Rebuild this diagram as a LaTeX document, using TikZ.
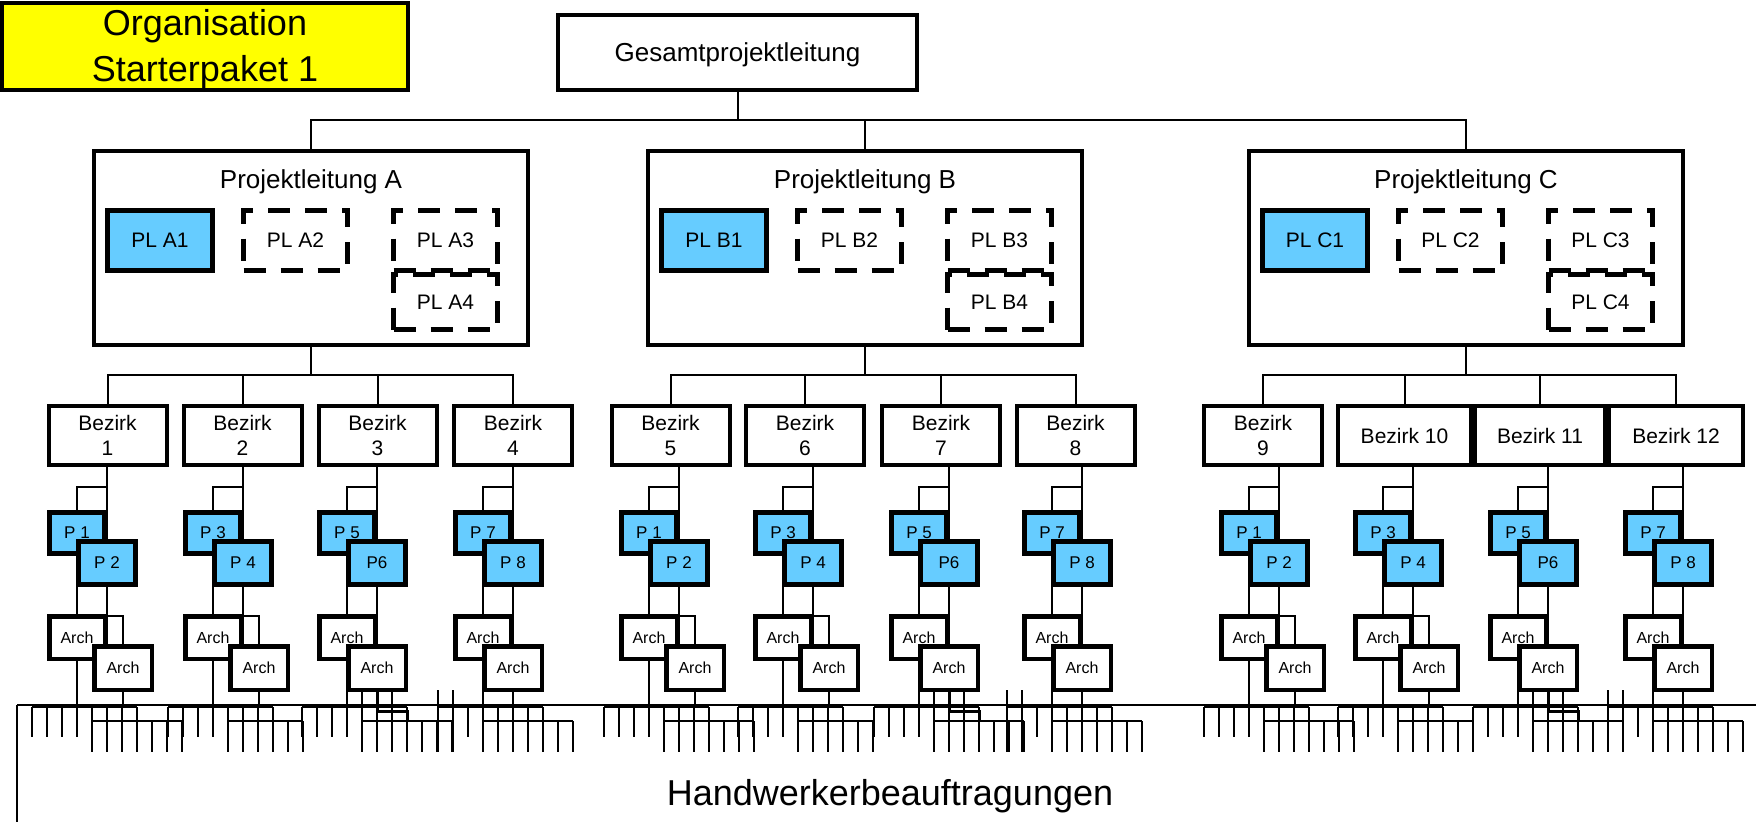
\documentclass[tikz,border=0pt]{standalone}
\usepackage{fontspec}
\setmainfont{Liberation Sans}
\definecolor{plblue}{HTML}{66CCFF}
\definecolor{titleyellow}{HTML}{FFFF00}
\pgfdeclarelayer{back}
\pgfdeclarelayer{bg}
\pgfsetlayers{back,bg,main}
\newcommand{\fzTitle}{\fontsize{36}{46}\selectfont}
\newcommand{\fzBig}{\fontsize{26}{31}\selectfont}
\newcommand{\fzMid}{\fontsize{21}{25}\selectfont}
\newcommand{\fzP}{\fontsize{17}{20}\selectfont}
\newcommand{\fzArch}{\fontsize{16}{19}\selectfont}
\newcommand{\fzHw}{\fontsize{36}{43}\selectfont}

% #1 id, #2 a, #3 arch2 offset, #4 lower comb start offset, #5 lower comb last index,
% #6 upper P label, #7 lower P label, #8 type (1: offset arch, 3: column 3, 4: column 4)
\newcommand{\bzunit}[8]{%
  \node[pbox, minimum width=55pt, minimum height=41pt] (pa#1) at ({#2-30},533) {#6};
  \node[pbox, minimum width=57pt, minimum height=43pt] (pb#1) at (#2,563) {#7};
  \node[archbox] (aa#1) at ({#2-30},637.5) {Arch};
  \node[archbox, minimum width=57.5pt, minimum height=43.5pt] (ab#1) at ({#2+#3},668) {Arch};
  \coordinate (br#1) at (#2,487);
  \begin{pgfonlayer}{bg}
    \draw[conn] (pb#1.north |- bz#1.south) -- (pb#1.north);
    \draw[conn] (br#1) -| (pa#1.north);
    \draw[conn] (aa#1.north |- pb#1.south) -- (aa#1.north);
    \draw[conn] (pb#1.south) -- (pb#1.south |- ab#1.north);
    \draw[conn] (aa#1.south) -- (aa#1.south |- combU);
    \draw[comb] ({#2-75},707) -- ({#2+30},707);
    \foreach \k in {0,...,7} \draw[comb] ({#2-75+15*\k},707) -- ++(0,30);
    \draw[comb] ({#2+#4},721) -- ({#2+#4+15*#5},721);
    \foreach \k in {0,...,#5} \draw[comb] ({#2+#4+15*\k},721) -- ++(0,31);
    \ifnum#8=1
      \draw[conn] (pb#1.south |- aa#1.north) -| (ab#1.north);
      \draw[conn] (ab#1.south) -- (ab#1.south |- combU);
    \fi
    \ifnum#8=3
      \draw[line width=3pt] (ab#1.south) -- ++(0,22) -- ++(30,0) -- ++(0,10);
      \draw[conn] ([xshift=-15pt]ab#1.south) -- ++(0,32);
      \draw[conn] ([xshift=15pt]ab#1.south) -- ++(0,32);
    \fi
    \ifnum#8=4
      \draw[conn] (ab#1.south) -- (ab#1.south |- combU);
      \draw[comb] ({#2-75},690) -- ({#2-75},752);
      \draw[comb] ({#2-60},690) -- ({#2-60},752);
    \fi
  \end{pgfonlayer}
}

\begin{document}
\begin{tikzpicture}[x=1pt,y=-1pt,
  conn/.style={line width=2pt},
  comb/.style={line width=2pt},
  hair/.style={line width=1.3pt},
  bigbox/.style={draw, line width=4pt, fill=white, inner sep=0pt, outer sep=0pt},
  titlebox/.style={draw, line width=4pt, fill=titleyellow, inner sep=0pt, outer sep=0pt,
    align=center, font=\fzTitle, minimum width=406pt, minimum height=87pt, text depth=1.6pt},
  plbox/.style={bigbox, minimum width=434pt, minimum height=194pt},
  bluepl/.style={draw, line width=5pt, fill=plblue, inner sep=0pt, outer sep=0pt,
    minimum width=105pt, minimum height=60pt, font=\fzMid},
  dashpl/.style={draw, line width=5pt, dash pattern=on 22pt off 15pt, fill=white,
    inner sep=0pt, outer sep=0pt, minimum width=104pt, font=\fzMid},
  bzbox/.style={bigbox, minimum height=59pt, align=center, font=\fzMid},
  pbox/.style={draw, line width=5pt, fill=plblue, inner sep=0pt, outer sep=0pt, font=\fzP},
  archbox/.style={draw, line width=4.5pt, fill=white, inner sep=0pt, outer sep=0pt,
    font=\fzArch, minimum width=55.5pt, minimum height=42.5pt},
  lbl/.style={font=\fzBig, anchor=base, inner sep=0pt}
]
\useasboundingbox (0,0) rectangle (1756,822);
\begin{pgfonlayer}{back}
  \fill[white] (0,0) rectangle (1756,822);
\end{pgfonlayer}
\coordinate (combU) at (0,707);

% title and top box
\node[titlebox] (title) at (205,46.5) {Organisation\\Starterpaket 1};
\node[bigbox, minimum width=359pt, minimum height=75pt, font=\fzBig, text depth=0pt] (gesamt) at (737.5,52.5) {Gesamtprojektleitung};

% Projektleitung boxes
\node[plbox] (pla) at (311,248) {};
\node[plbox] (plb) at (865,248) {};
\node[plbox] (plc) at (1466,248) {};
\node[lbl] (plat) at (311,188) {Projektleitung A};
\node[lbl] (plbt) at (865,188) {Projektleitung B};
\node[lbl] (plct) at (1466,188) {Projektleitung C};

\node[bluepl] (pla1) at (160,240.5) {PL A1};
\node[dashpl, minimum height=60pt] (pla2) at (295.5,240.5) {PL A2};
\node[dashpl, minimum height=60pt] (pla3) at (445.5,240.5) {PL A3};
\node[dashpl, minimum height=55pt] (pla4) at (445.5,302) {PL A4};
\node[bluepl] (plb1) at (714,240.5) {PL B1};
\node[dashpl, minimum height=60pt] (plb2) at (849.5,240.5) {PL B2};
\node[dashpl, minimum height=60pt] (plb3) at (999.5,240.5) {PL B3};
\node[dashpl, minimum height=55pt] (plb4) at (999.5,302) {PL B4};
\node[bluepl] (plc1) at (1315,240.5) {PL C1};
\node[dashpl, minimum height=60pt] (plc2) at (1450.5,240.5) {PL C2};
\node[dashpl, minimum height=60pt] (plc3) at (1600.5,240.5) {PL C3};
\node[dashpl, minimum height=55pt] (plc4) at (1600.5,302) {PL C4};
\foreach \g in {a,b,c}
  \draw[line width=1pt] ([xshift=8pt,yshift=-2pt]pl\g3.south west) -- ([yshift=-2pt]pl\g3.south east);

% Bezirke
\node[bzbox, minimum width=118pt] (bz1) at (107.5,435.5) {Bezirk\\1};
\node[bzbox, minimum width=118pt] (bz2) at (242.5,435.5) {Bezirk\\2};
\node[bzbox, minimum width=118pt] (bz3) at (377.5,435.5) {Bezirk\\3};
\node[bzbox, minimum width=118pt] (bz4) at (513,435.5) {Bezirk\\4};
\node[bzbox, minimum width=118pt] (bz5) at (670.5,435.5) {Bezirk\\5};
\node[bzbox, minimum width=118pt] (bz6) at (805,435.5) {Bezirk\\6};
\node[bzbox, minimum width=118pt] (bz7) at (941,435.5) {Bezirk\\7};
\node[bzbox, minimum width=118pt] (bz8) at (1075.5,435.5) {Bezirk\\8};
\node[bzbox, minimum width=118pt] (bz9) at (1263,435.5) {Bezirk\\9};
\node[bzbox, minimum width=133pt] (bz10) at (1404.5,435.5) {Bezirk 10};
\node[bzbox, minimum width=130pt] (bz11) at (1540,435.5) {Bezirk 11};
\node[bzbox, minimum width=134pt] (bz12) at (1676,435.5) {Bezirk 12};

% upper connectors
\begin{pgfonlayer}{bg}
  \foreach \p in {pla,plb,plc}
    \draw[conn] (gesamt.south) -- ++(0,30) -| (\p.north);
  \foreach \b in {bz1,bz2,bz3,bz4}
    \draw[conn] (pla.south) -- ++(0,30) -| (\b.north);
  \foreach \b in {bz5,bz6,bz7,bz8}
    \draw[conn] (plb.south) -- ++(0,30) -| (\b.north);
  \foreach \b in {bz9,bz10,bz11,bz12}
    \draw[conn] (plc.south) -- ++(0,30) -| (\b.north);
  \draw[hair] (17,705) -- (1756,705);
  \draw[hair] (17,705) -- (17,822);
\end{pgfonlayer}

% Projekt / Architekt units
\bzunit{1}{107}{16}{-15}{6}{P 1}{P 2}{1}
\bzunit{2}{243}{16}{-15}{5}{P 3}{P 4}{1}
\bzunit{3}{377}{0}{-15}{6}{P 5}{P6}{3}
\bzunit{4}{513}{0}{-30}{6}{P 7}{P 8}{4}
\bzunit{5}{679}{16}{-15}{6}{P 1}{P 2}{1}
\bzunit{6}{813}{16}{-15}{5}{P 3}{P 4}{1}
\bzunit{7}{949}{0}{-15}{6}{P 5}{P6}{3}
\bzunit{8}{1082}{0}{-30}{6}{P 7}{P 8}{4}
\bzunit{9}{1279}{16}{-15}{6}{P 1}{P 2}{1}
\bzunit{10}{1413}{16}{-15}{5}{P 3}{P 4}{1}
\bzunit{11}{1548}{0}{-15}{6}{P 5}{P6}{3}
\bzunit{12}{1683}{0}{-30}{6}{P 7}{P 8}{4}

\node[font=\fzHw, anchor=base, inner sep=0pt] (hw) at (890,805) {Handwerkerbeauftragungen};
\end{tikzpicture}
\end{document}
